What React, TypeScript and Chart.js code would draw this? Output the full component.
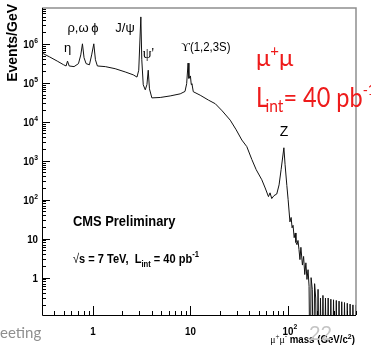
import React, { useEffect, useRef } from "react";
import { Chart, registerables } from "chart.js";

Chart.register(...registerables);

// ---- data ----
const massGeV = [
  0.3, 0.36, 0.43, 0.5, 0.53, 0.548, 0.57, 0.64, 0.71, 0.75, 0.78, 0.81, 0.85, 0.92, 0.97, 1.02,
  1.06, 1.11, 1.34, 1.69, 2.14, 2.59, 2.83, 2.95, 3.1, 3.17, 3.28, 3.44, 3.58, 3.69, 3.8, 4.02,
  4.9, 6.2, 7.85, 8.8, 9.15, 9.46, 9.65, 10.0, 10.2, 10.36, 10.7, 12.6, 15.3, 18.0, 21.2, 25.6,
  29.5, 33.7, 37.9, 42.7, 47.3, 54.0, 58.5, 63.2, 65.6, 68.3, 72, 76.9, 81.2, 85.2, 91, 93.6,
  97.6, 100.6, 105, 108, 110.5, 113, 116, 119, 121, 124, 127, 130, 133, 136, 141, 145, 149, 153,
  157, 161, 165, 169, 173, 178, 183, 188, 193, 198, 204, 210, 216, 222, 229, 236, 243, 251, 259,
  267, 276, 285, 294, 304, 314, 324, 335, 346, 357, 369, 381, 394, 407, 421, 435, 450, 465, 481,
  497,
];
const eventsPerGeV = [
  5.8e5, 4.6e5, 3.6e5, 2.9e5, 2.7e5, 3.6e5, 2.7e5, 2.6e5, 3.1e5, 5.2e5, 1.0e6, 4.4e5, 3.1e5, 2.9e5, 5.2e5, 1.0e6,
  3.9e5, 2.7e5, 2.6e5, 2.3e5, 1.9e5, 1.6e5, 1.4e5, 2.1e5, 4.9e6, 3.9e5, 8.9e4, 6.6e4, 9.0e4, 2.1e5, 7.0e4, 4.1e4,
  4.2e4, 4.6e4, 5.2e4, 6.0e4, 9.5e4, 3.2e5, 1.3e5, 1.5e5, 9.0e4, 9.5e4, 5.9e4, 4.8e4, 3.6e4, 2.9e4, 1.9e4, 1.1e4,
  6.2e3, 3.4e3, 2.3e3, 1.07e3, 590, 325, 200, 120, 150, 107, 127, 140, 240, 590, 2150, 790,
  230, 100, 27, 35, 19, 22, 10.6, 14, 8, 7, 9, 5.3, 2.9, 6, 2.1, 3.5, 1.2, 2.4,
  0.9, 1.6, 0.6, 0.001, 1.0, 0.5, 0.001, 0.7, 0.3, 0.001, 0.5, 0.001, 0.3, 0.001, 0.35, 0.001, 0.3, 0.001, 0.3,
  0.001, 0.28, 0.001, 0.27, 0.001, 0.26, 0.001, 0.25, 0.001, 0.24, 0.001, 0.23, 0.001, 0.22, 0.001, 0.21, 0.001, 0.2, 0.001,
  0.2,
];
const xTickValues = [1, 10, 100];
const xTickBase = ["1", "10", "10"];
const xTickExp = ["", "", "2"];
const yTickValues = [1, 10, 100, 1e3, 1e4, 1e5, 1e6];
const yTickBase = ["1", "10", "10", "10", "10", "10", "10"];
const yTickExp = ["", "", "2", "3", "4", "5", "6"];
const xRange = [0.3, 500];
const yRange = [0.11, 8.3e6];

type Part = { t: string; font: string; dy?: number; dx?: number; color?: string };

function drawRich(
  ctx: CanvasRenderingContext2D,
  x: number,
  y: number,
  parts: Part[],
  align: "left" | "center" | "right" = "left",
  sx = 1,
  color = "#000"
) {
  ctx.save();
  ctx.textBaseline = "alphabetic";
  ctx.textAlign = "left";
  let w = 0;
  for (const p of parts) {
    ctx.font = p.font;
    w += ctx.measureText(p.t).width + (p.dx || 0);
  }
  w *= sx;
  const x0 = align === "left" ? x : align === "center" ? x - w / 2 : x - w;
  ctx.translate(x0, y);
  ctx.scale(sx, 1);
  let cx = 0;
  for (const p of parts) {
    ctx.font = p.font;
    ctx.fillStyle = p.color || color;
    cx += p.dx || 0;
    ctx.fillText(p.t, cx, p.dy || 0);
    cx += ctx.measureText(p.t).width;
  }
  ctx.restore();
}

const B = (s: number) => `bold ${s}px "Liberation Sans", Arial, sans-serif`;
const R = (s: number) => `${s}px "Liberation Sans", Arial, sans-serif`;
const S = (s: number) => `${s}px "Liberation Serif", "Times New Roman", serif`;
const L = (s: number) => `${s}px Lato, "Open Sans", sans-serif`;

const rootPlugin = {
  id: "rootStyle",
  afterDraw(chart: any) {
    const { ctx, chartArea: a, scales } = chart;
    const xs = scales.x;
    const ys = scales.y;
    ctx.save();
    // frame top/right (grey)
    ctx.strokeStyle = "#8e8e8e";
    ctx.lineWidth = 1.5;
    ctx.beginPath();
    ctx.moveTo(a.left, a.top);
    ctx.lineTo(a.right, a.top);
    ctx.lineTo(a.right, a.bottom);
    ctx.stroke();
    // axes
    ctx.strokeStyle = "#000";
    ctx.lineWidth = 1;
    ctx.beginPath();
    ctx.moveTo(a.left + 0.5, a.top);
    ctx.lineTo(a.left + 0.5, a.bottom + 0.5);
    ctx.lineTo(a.right, a.bottom + 0.5);
    // y ticks
    for (let e = -1; e <= 6; e++) {
      for (let k = 1; k <= 9; k++) {
        const v = k * Math.pow(10, e);
        if (v < ys.min || v > ys.max) continue;
        const py = Math.round(ys.getPixelForValue(v)) + 0.5;
        const len = k === 1 ? 8 : 4;
        ctx.moveTo(a.left, py);
        ctx.lineTo(a.left + len, py);
      }
    }
    // x ticks
    for (let e = -1; e <= 2; e++) {
      for (let k = 1; k <= 9; k++) {
        const v = k * Math.pow(10, e);
        if (v < xs.min || v > xs.max) continue;
        const px = Math.round(xs.getPixelForValue(v)) + 0.5;
        const len = k === 1 ? 9 : 4;
        ctx.moveTo(px, a.bottom);
        ctx.lineTo(px, a.bottom - len);
      }
    }
    ctx.stroke();

    // y tick labels
    yTickValues.forEach((v, i) => {
      const py = ys.getPixelForValue(v);
      const parts: Part[] = [{ t: yTickBase[i], font: B(11.5), dy: 0 }];
      if (yTickExp[i]) parts.push({ t: yTickExp[i], font: B(8), dy: -5 });
      drawRich(ctx, a.left - 4, py + 4, parts, "right", 0.85);
    });
    // x tick labels
    xTickValues.forEach((v, i) => {
      const px = xs.getPixelForValue(v);
      const parts: Part[] = [{ t: xTickBase[i], font: B(11.5) }];
      if (xTickExp[i]) parts.push({ t: xTickExp[i], font: B(8), dy: -6 });
      const dx = xTickExp[i] ? 2 : 0;
      drawRich(ctx, px + dx, a.bottom + 20, parts, "center", 0.85);
    });

    // y axis title
    ctx.save();
    ctx.translate(17, 4);
    ctx.rotate(-Math.PI / 2);
    drawRich(ctx, 0, 0, [{ t: "Events/GeV", font: B(14) }], "right", 1);
    ctx.restore();

    // x axis title
    drawRich(
      ctx,
      355,
      343,
      [
        { t: "μ", font: S(11) },
        { t: "+", font: S(8), dy: -4 },
        { t: "μ", font: S(11) },
        { t: "-", font: S(8), dy: -4 },
        { t: " mass (GeV/c", font: B(11) },
        { t: "2", font: B(8), dy: -4 },
        { t: ")", font: B(11) },
      ],
      "right",
      0.88
    );

    // resonance labels
    drawRich(ctx, 67.5, 52, [{ t: "η", font: R(13) }], "center");
    drawRich(ctx, 78, 32, [{ t: "ρ,ω", font: R(13) }], "center");
    drawRich(ctx, 95, 32, [{ t: "ϕ", font: R(13) }], "center");
    drawRich(ctx, 125, 32, [{ t: "J/ψ", font: R(13) }], "center");
    drawRich(ctx, 148.5, 58, [{ t: "ψ'", font: S(14) }], "center");
    drawRich(ctx, 181, 51, [{ t: "ϒ", font: S(13) }, { t: "(1,2,3S)", font: R(12) }], "left", 0.95);
    drawRich(ctx, 284, 136, [{ t: "Z", font: R(14) }], "center");

    // CMS texts
    drawRich(ctx, 73, 226, [{ t: "CMS Preliminary", font: B(15) }], "left", 0.86);
    drawRich(
      ctx,
      73,
      263,
      [
        { t: "√", font: R(13) },
        { t: "s = 7 TeV,  L", font: B(13) },
        { t: "int", font: B(9), dy: 4 },
        { t: " = 40 pb", font: B(13) },
        { t: "-1", font: B(9), dy: -6 },
      ],
      "left",
      0.85
    );

    // red annotation
    const red = "#ee1b1b";
    drawRich(
      ctx,
      256,
      66,
      [
        { t: "μ", font: L(24) },
        { t: "+", font: L(15), dy: -10 },
        { t: "μ", font: L(24) },
      ],
      "left",
      1,
      red
    );
    drawRich(
      ctx,
      256,
      107,
      [
        { t: "L", font: L(27) },
        { t: "int", font: L(18), dy: 5, dx: -3 },
        { t: "= 40 pb", font: L(27) },
        { t: "-1", font: L(16), dy: -12 },
      ],
      "left",
      0.87,
      red
    );

    // slide remnants
    drawRich(ctx, 0, 338, [{ t: "eeting", font: L(15) }], "left", 1, "#8f8f8f");
    drawRich(ctx, 309, 340, [{ t: "22", font: L(20) }], "left", 1, "#c4c4c4");

    ctx.restore();
  },
};

export default function App() {
  const ref = useRef<HTMLCanvasElement>(null);
  useEffect(() => {
    if (!ref.current) return;
    const points = massGeV.map((m, i) => ({ x: m, y: eventsPerGeV[i] }));
    const chart = new Chart(ref.current, {
      type: "line",
      data: {
        datasets: [
          {
            data: points,
            borderColor: "#111",
            borderWidth: 1,
            pointRadius: 0,
            tension: 0,
            fill: false,
          },
        ],
      },
      options: {
        animation: false,
        responsive: false,
        maintainAspectRatio: false,
        devicePixelRatio: 1,
        layout: { padding: { left: 42, top: 8, right: 15, bottom: 34 } },
        plugins: { legend: { display: false }, tooltip: { enabled: false } },
        scales: {
          x: { type: "logarithmic", min: xRange[0], max: xRange[1], display: false },
          y: { type: "logarithmic", min: yRange[0], max: yRange[1], display: false },
        },
      },
      plugins: [rootPlugin],
    });
    return () => chart.destroy();
  }, []);
  return (
    <div style={{ position: "absolute", left: 0, top: 0, width: 371, height: 349, background: "#fff" }}>
      <canvas ref={ref} width={371} height={349} style={{ display: "block" }} />
    </div>
  );
}
